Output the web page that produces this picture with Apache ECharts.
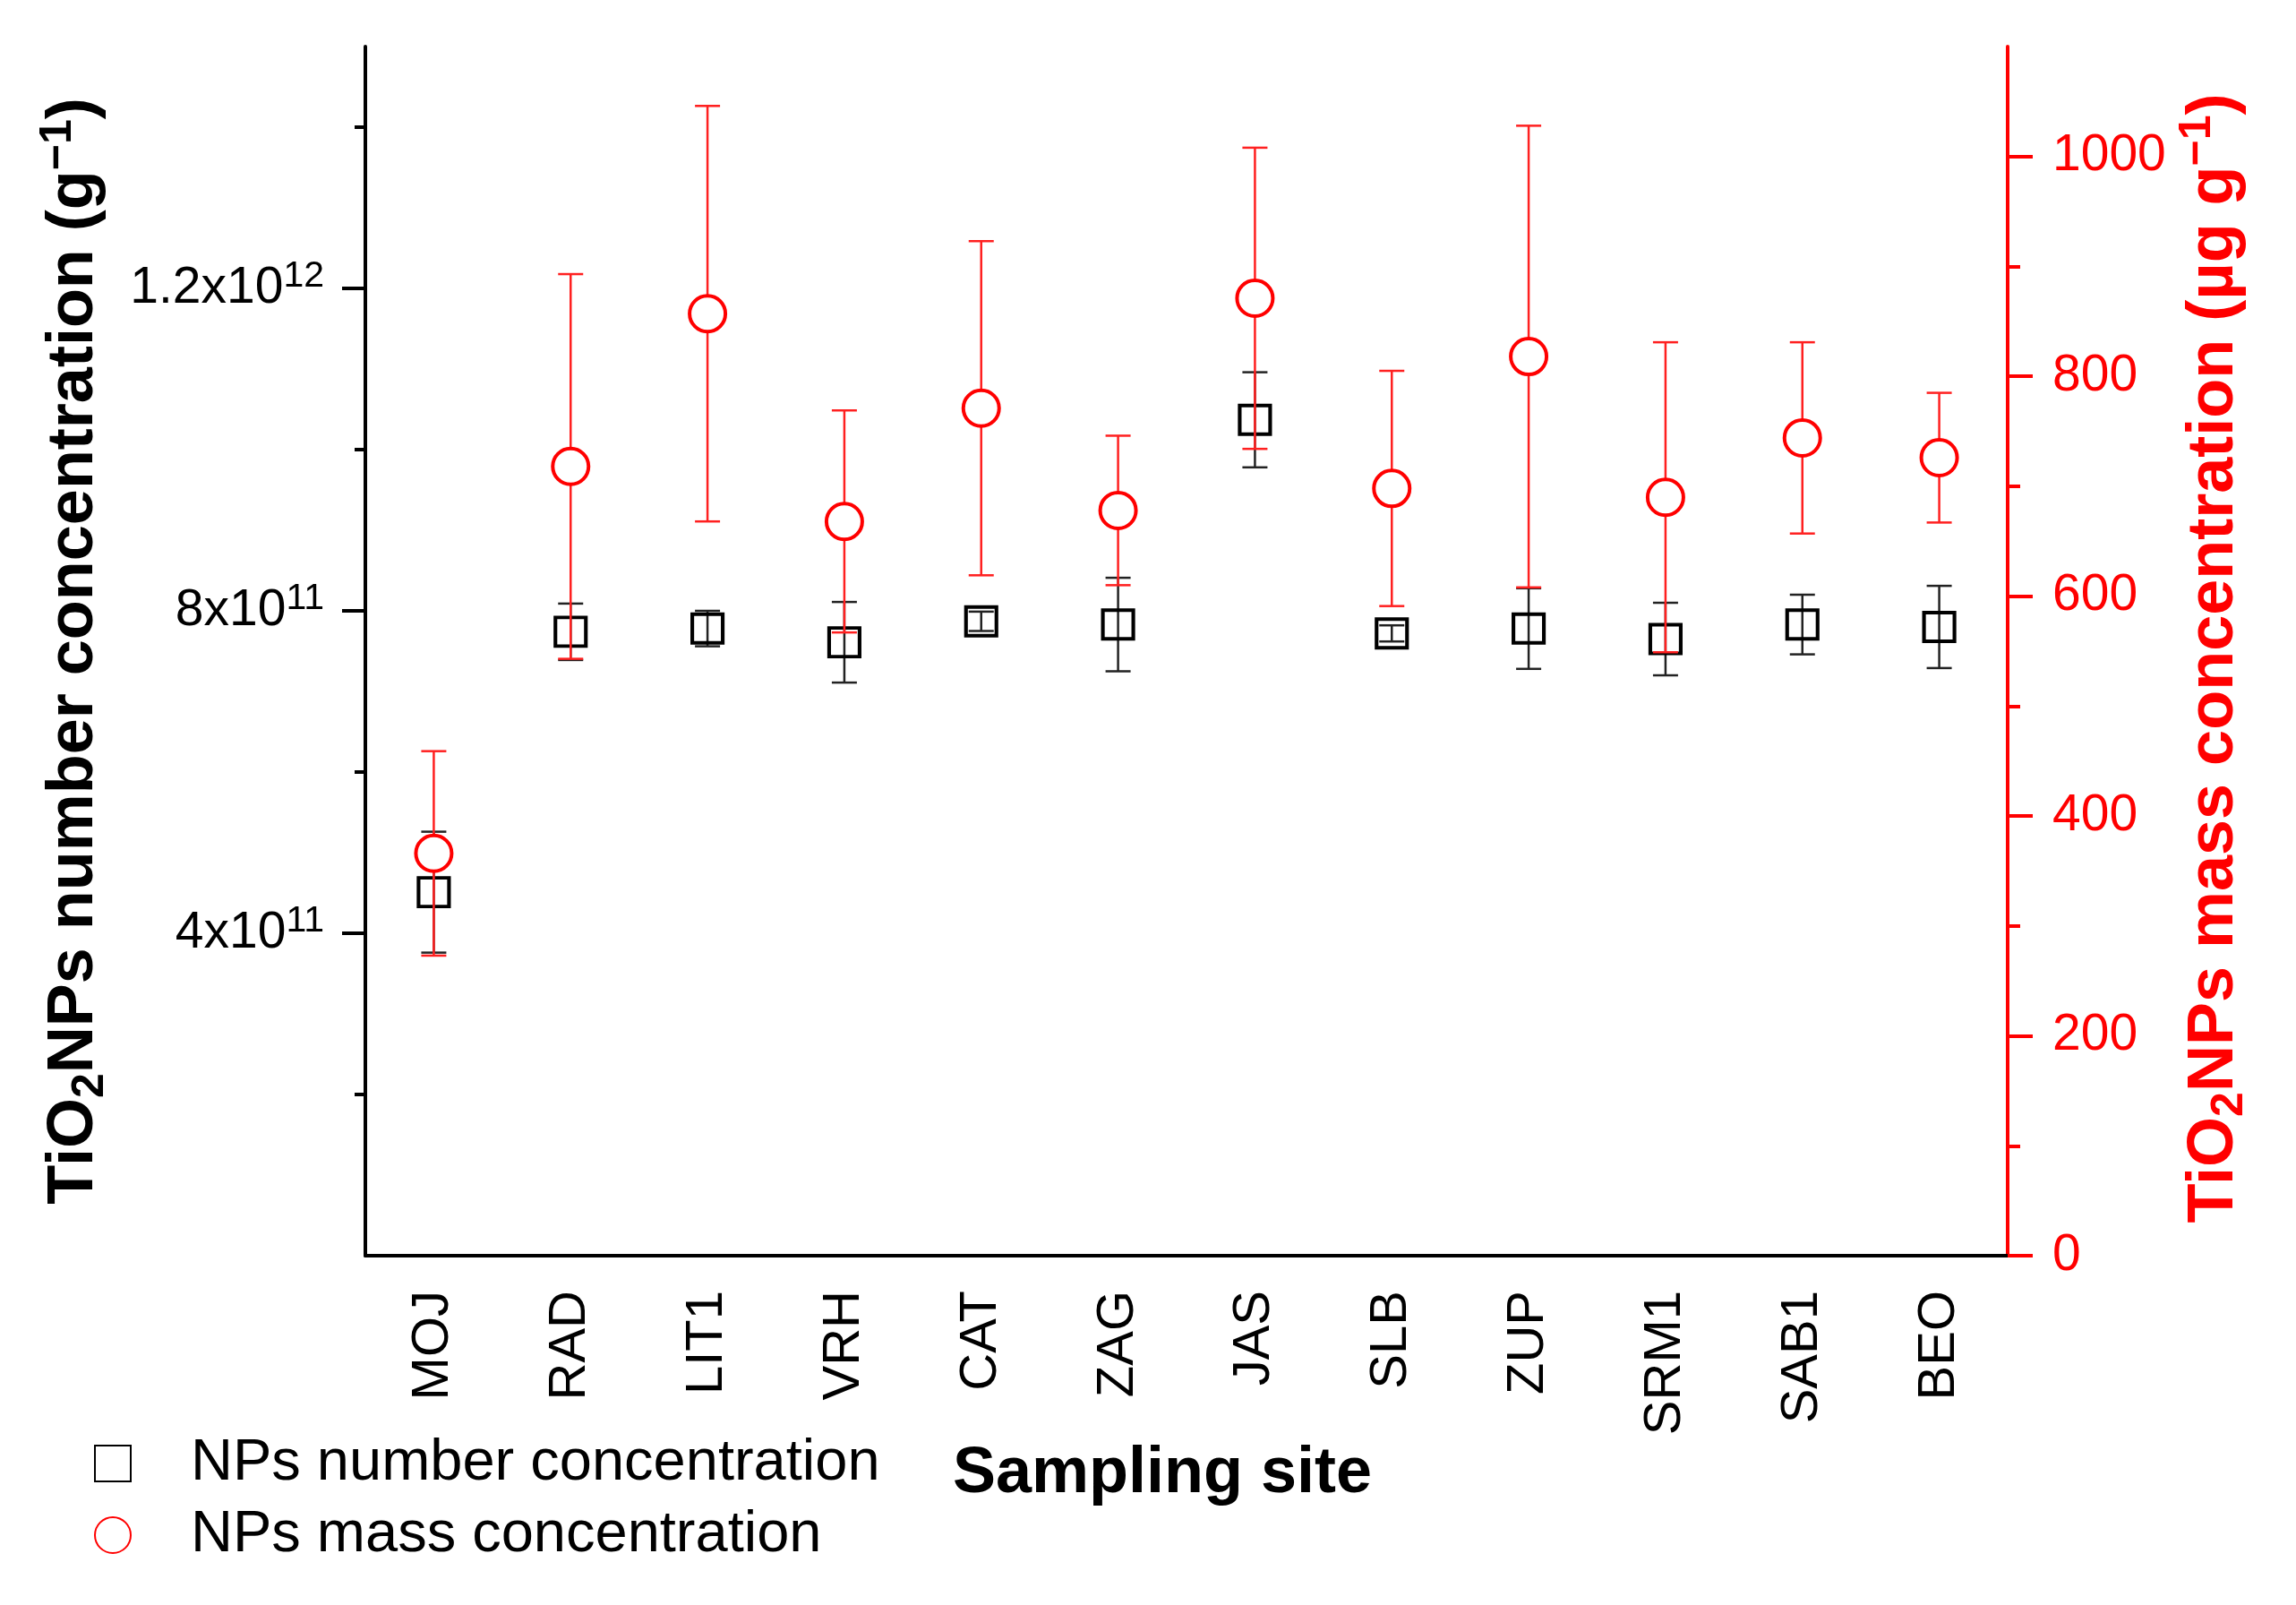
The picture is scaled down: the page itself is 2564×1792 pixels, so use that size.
<!DOCTYPE html>
<html>
<head>
<meta charset="utf-8">
<script src="https://cdn.jsdelivr.net/npm/echarts@6/dist/echarts.min.js"></script>
<style>
html,body{margin:0;padding:0;background:#fff;}
#chart{width:2564px;height:1792px;}
</style>
</head>
<body>
<div id="chart"></div>
<script>
// ---- data ----
const sites = ['MOJ','RAD','LIT1','VRH','CAT','ZAG','JAS','SLB','ZUP','SRM1','SAB1','BEO'];
const numberMean = [4.51e11, 7.74e11, 7.78e11, 7.61e11, 7.87e11, 7.83e11, 1.037e12, 7.72e11, 7.78e11, 7.65e11, 7.83e11, 7.80e11];
const numberErr  = [0.75e11, 0.35e11, 0.22e11, 0.50e11, 0.12e11, 0.58e11, 0.59e11, 0.10e11, 0.50e11, 0.45e11, 0.37e11, 0.51e11];
const massMean = [366, 718, 857, 668, 771, 678, 871, 698, 818, 690, 744, 726];
const massErr  = [93, 175, 189, 101, 152, 68, 137, 107, 210, 141, 87, 59];
const leftTicks = [4e11, 8e11, 1.2e12];
const rightTicks = [0, 200, 400, 600, 800, 1000];

const FONT = '"Liberation Sans", Arial, sans-serif';

function errData(mean, err) {
  return mean.map((m, i) => [i, m - err[i], m + err[i]]);
}
function errRender(color, lw, capHalf) {
  return function (params, api) {
    const x = api.value(0);
    const pLo = api.coord([x, api.value(1)]);
    const pHi = api.coord([x, api.value(2)]);
    const st = { stroke: color, lineWidth: lw };
    return {
      type: 'group',
      children: [
        { type: 'line', shape: { x1: pLo[0], y1: pLo[1], x2: pHi[0], y2: pHi[1] }, style: st },
        { type: 'line', shape: { x1: pLo[0] - capHalf, y1: pLo[1], x2: pLo[0] + capHalf, y2: pLo[1] }, style: st },
        { type: 'line', shape: { x1: pHi[0] - capHalf, y1: pHi[1], x2: pHi[0] + capHalf, y2: pHi[1] }, style: st }
      ]
    };
  };
}
function sciLabel(v) {
  if (v === 0) return '';
  const e = Math.floor(Math.log10(v) + 1e-9);
  const m = +(v / Math.pow(10, e)).toFixed(2);
  return '{a|' + m + 'x10}{s|' + e + '}';
}

const chart = echarts.init(document.getElementById('chart'), null, { renderer: 'canvas' });
const option = {
  backgroundColor: '#ffffff',
  animation: false,
  textStyle: { fontFamily: FONT },
  grid: { left: 408, right: 322, top: 52, bottom: 390, containLabel: false },
  legend: {
    orient: 'vertical',
    left: 100,
    top: 1596,
    itemWidth: 40,
    itemHeight: 40,
    itemGap: 14,
    data: ['NPs number concentration', 'NPs mass concentration'],
    textStyle: { fontFamily: FONT, fontSize: 65, color: '#000', padding: [0, 0, 0, 62], lineHeight: 66 }
  },
  xAxis: {
    type: 'category',
    data: sites,
    boundaryGap: true,
    name: 'Sampling site',
    nameLocation: 'middle',
    nameGap: 195,
    nameTextStyle: { fontFamily: FONT, fontSize: 72, fontWeight: 'bold', color: '#000', padding: [0, 54, 0, 0] },
    axisLine: { lineStyle: { color: '#000', width: 4 } },
    axisTick: { alignWithLabel: true, inside: false, length: 27, lineStyle: { color: '#000', width: 4 } },
    axisLabel: { rotate: 90, margin: 39, fontFamily: FONT, fontSize: 58, color: '#000' },
    splitLine: { show: false }
  },
  yAxis: [
    {
      type: 'value',
      position: 'left',
      min: 0,
      max: 1.5e12,
      interval: 4e11,
      name: '{b|TiO}{bs|2}{b|NPs number concentration (g}{bp|\u22121}{b|)}',
      nameLocation: 'middle',
      nameRotate: 90,
      nameGap: 282,
      nameTextStyle: {
        rich: {
          b: { fontFamily: FONT, fontSize: 72, fontWeight: 'bold', color: '#000', lineHeight: 86 },
          bs: { fontFamily: FONT, fontSize: 50, fontWeight: 'bold', color: '#000', lineHeight: 50, verticalAlign: 'bottom' },
          bp: { fontFamily: FONT, fontSize: 50, fontWeight: 'bold', color: '#000', lineHeight: 50, verticalAlign: 'top' }
        }
      },
      axisLine: { show: true, lineStyle: { color: '#000', width: 4 } },
      axisTick: { show: true, length: 26, customValues: leftTicks, lineStyle: { color: '#000', width: 4 } },
      minorTick: { show: true, splitNumber: 2, length: 12, lineStyle: { color: '#000', width: 4 } },
      axisLabel: {
        margin: 46,
        customValues: leftTicks,
        formatter: sciLabel,
        rich: {
          a: { fontFamily: FONT, fontSize: 57, color: '#000', lineHeight: 68 },
          s: { fontFamily: FONT, fontSize: 41, color: '#000', lineHeight: 41, verticalAlign: 'top' }
        }
      },
      splitLine: { show: false }
    },
    {
      type: 'value',
      position: 'right',
      min: 0,
      max: 1100,
      interval: 200,
      name: '{b|TiO}{bs|2}{b|NPs mass concentration (\u00b5g g}{bp|\u22121}{b|)}',
      nameLocation: 'middle',
      nameRotate: 90,
      nameGap: 152,
      nameTextStyle: {
        padding: [0, 16, 0, 0],
        rich: {
          b: { fontFamily: FONT, fontSize: 72, fontWeight: 'bold', color: '#ff0000', lineHeight: 86 },
          bs: { fontFamily: FONT, fontSize: 50, fontWeight: 'bold', color: '#ff0000', lineHeight: 50, verticalAlign: 'bottom' },
          bp: { fontFamily: FONT, fontSize: 50, fontWeight: 'bold', color: '#ff0000', lineHeight: 50, verticalAlign: 'top' }
        }
      },
      axisLine: { show: true, lineStyle: { color: '#ff0000', width: 4 } },
      axisTick: { show: true, length: 28, customValues: rightTicks, lineStyle: { color: '#ff0000', width: 4 } },
      minorTick: { show: true, splitNumber: 2, length: 14, lineStyle: { color: '#ff0000', width: 4 } },
      axisLabel: {
        margin: 50,
        customValues: rightTicks,
        formatter: function (v) { return String(v); },
        fontFamily: FONT, fontSize: 57, color: '#ff0000'
      },
      splitLine: { show: false }
    }
  ],
  series: [
    {
      name: 'numberErr',
      type: 'custom',
      yAxisIndex: 0,
      renderItem: errRender('#222', 2.5, 14),
      encode: { x: 0, y: [1, 2] },
      data: errData(numberMean, numberErr),
      z: 1,
      silent: true
    },
    {
      name: 'NPs number concentration',
      type: 'scatter',
      yAxisIndex: 0,
      symbol: 'rect',
      symbolSize: [34, 32],
      itemStyle: { color: 'rgba(255,255,255,0)', borderColor: '#000', borderWidth: 4, opacity: 1 },
      data: numberMean,
      z: 2
    },
    {
      name: 'massErr',
      type: 'custom',
      yAxisIndex: 1,
      renderItem: errRender('#ff2020', 2.5, 14),
      encode: { x: 0, y: [1, 2] },
      data: errData(massMean, massErr),
      z: 3,
      silent: true
    },
    {
      name: 'NPs mass concentration',
      type: 'scatter',
      yAxisIndex: 1,
      symbol: 'circle',
      symbolSize: 40,
      itemStyle: { color: '#ffffff', borderColor: '#ff0000', borderWidth: 4, opacity: 1 },
      data: massMean,
      z: 4
    }
  ]
};
chart.setOption(option);
</script>
</body>
</html>
